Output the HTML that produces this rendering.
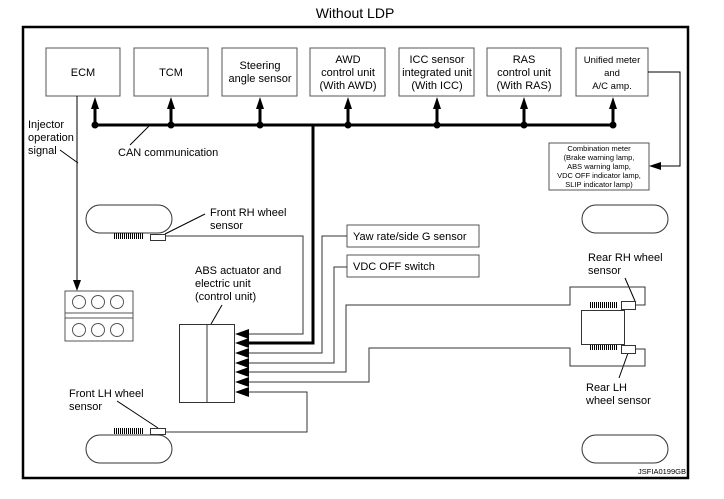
<!DOCTYPE html>
<html><head><meta charset="utf-8"><style>
html,body{margin:0;padding:0;background:#fff;}
svg{display:block;}
text{font-family:"Liberation Sans",Arial,sans-serif;fill:#000;}
</style></head><body>
<svg width="724" height="499" viewBox="0 0 724 499" xmlns="http://www.w3.org/2000/svg">
<defs>
<pattern id="teeth" width="2" height="6" patternUnits="userSpaceOnUse"><rect width="1" height="6" fill="#000"/></pattern>
</defs>
<text x="355" y="18" font-size="14" text-anchor="middle">Without LDP</text>
<rect x="23" y="27" width="665" height="451" fill="none" stroke="#000" stroke-width="2.5"/>

<g fill="#fff" stroke="#555" stroke-width="1">
<rect x="46" y="48" width="74" height="48"/>
<rect x="134" y="48" width="74" height="48"/>
<rect x="222" y="48" width="75" height="48"/>
<rect x="310" y="48" width="75" height="48"/>
<rect x="399" y="48" width="75" height="48"/>
<rect x="487" y="48" width="74" height="48"/>
<rect x="576" y="48" width="72" height="48"/>
</g>
<g font-size="11" text-anchor="middle">
<text x="83" y="76">ECM</text>
<text x="171" y="76">TCM</text>
<text x="260" y="69">Steering</text><text x="260" y="82">angle sensor</text>
<text x="348" y="63">AWD</text><text x="348" y="76">control unit</text><text x="348" y="89">(With AWD)</text>
<text x="437" y="63">ICC sensor</text><text x="437" y="76">integrated unit</text><text x="437" y="89">(With ICC)</text>
<text x="524" y="63">RAS</text><text x="524" y="76">control unit</text><text x="524" y="89">(With RAS)</text>
</g>
<g font-size="9.5" text-anchor="middle">
<text x="612" y="63">Unified meter</text><text x="612" y="76">and</text><text x="612" y="89">A/C amp.</text>
</g>

<!-- CAN bus -->
<g stroke="#000" stroke-width="3" fill="none">
<line x1="95" y1="125" x2="613" y2="125"/>
<line x1="95" y1="125" x2="95" y2="108"/>
<line x1="171" y1="125" x2="171" y2="108"/>
<line x1="260" y1="125" x2="260" y2="108"/>
<line x1="348" y1="125" x2="348" y2="108"/>
<line x1="437" y1="125" x2="437" y2="108"/>
<line x1="524" y1="125" x2="524" y2="108"/>
<line x1="613" y1="125" x2="613" y2="108"/>
<polyline points="313,125 313,343 249,343"/>
</g>
<g fill="#000">
<polygon points="95,97 91,109 99,109"/><polygon points="171,97 167,109 175,109"/>
<polygon points="260,97 256,109 264,109"/><polygon points="348,97 344,109 352,109"/>
<polygon points="437,97 433,109 441,109"/><polygon points="524,97 520,109 528,109"/>
<polygon points="613,97 609,109 617,109"/>
<circle cx="95" cy="125" r="3.5"/><circle cx="171" cy="125" r="3.5"/><circle cx="260" cy="125" r="3.5"/>
<circle cx="348" cy="125" r="3.5"/><circle cx="437" cy="125" r="3.5"/><circle cx="524" cy="125" r="3.5"/>
<circle cx="613" cy="125" r="3.5"/>
</g>

<!-- labels -->
<g font-size="11">
<text x="28" y="128">Injector</text><text x="28" y="141">operation</text><text x="28" y="154">signal</text>
<text x="118" y="156">CAN communication</text>
<text x="210" y="216">Front RH wheel</text><text x="210" y="229">sensor</text>
<text x="195" y="274">ABS actuator and</text><text x="195" y="287">electric unit</text><text x="195" y="300">(control unit)</text>
<text x="69" y="397">Front LH wheel</text><text x="69" y="410">sensor</text>
<text x="588" y="261">Rear RH wheel</text><text x="588" y="274">sensor</text>
<text x="586" y="391">Rear LH</text><text x="586" y="404">wheel sensor</text>
</g>
<g stroke="#000" stroke-width="1" fill="none">
<line x1="60" y1="150" x2="78" y2="163"/>
<line x1="150" y1="125" x2="130" y2="145"/>
<line x1="205" y1="214" x2="165" y2="234"/>
<line x1="222" y1="305" x2="211" y2="324"/>
<line x1="117" y1="401" x2="158" y2="428"/>
<line x1="625" y1="278" x2="635" y2="301"/>
<line x1="628" y1="353" x2="619" y2="378"/>
</g>

<!-- injector -->
<line x1="77" y1="96" x2="77" y2="282" stroke="#000" stroke-width="1"/>
<polygon points="77,291 73,280 81,280" fill="#000"/>
<g stroke="#555" stroke-width="1" fill="#fff">
<rect x="65" y="291" width="68" height="50"/>
<line x1="65" y1="313" x2="133" y2="313"/><line x1="65" y1="318" x2="133" y2="318"/>
<circle cx="79" cy="302" r="6.5"/><circle cx="98" cy="302" r="6.5"/><circle cx="117" cy="302" r="6.5"/>
<circle cx="79" cy="330" r="6.5"/><circle cx="98" cy="330" r="6.5"/><circle cx="117" cy="330" r="6.5"/>
</g>

<!-- combination meter -->
<rect x="549" y="143" width="100" height="47" fill="#fff" stroke="#555"/>
<g font-size="7.5" text-anchor="middle">
<text x="599" y="151">Combination meter</text>
<text x="599" y="160">(Brake warning lamp,</text>
<text x="599" y="169">ABS warning lamp,</text>
<text x="599" y="178">VDC OFF indicator lamp,</text>
<text x="599" y="187">SLIP indicator lamp)</text>
</g>
<polyline points="648,72 680,72 680,166 660,166" fill="none" stroke="#000"/>
<polygon points="649,166 661,162 661,170" fill="#000"/>

<!-- sensors boxes -->
<rect x="347" y="225" width="132" height="22" fill="#fff" stroke="#555"/>
<text x="353" y="240" font-size="11">Yaw rate/side G sensor</text>
<rect x="347" y="255" width="132" height="22" fill="#fff" stroke="#555"/>
<text x="353" y="270" font-size="11">VDC OFF switch</text>

<!-- wheels -->
<g fill="#fff" stroke="#333" stroke-width="1">
<rect x="86" y="205" width="86" height="28" rx="14"/>
<rect x="86" y="435" width="86" height="28" rx="14"/>
<rect x="582" y="205" width="86" height="28" rx="14"/>
<rect x="582" y="435" width="86" height="28" rx="14"/>
</g>
<rect x="114" y="233" width="30" height="6" fill="url(#teeth)"/>
<rect x="114" y="428" width="30" height="6" fill="url(#teeth)"/>
<rect x="150.5" y="234.5" width="15" height="6" fill="#fff" stroke="#333"/>
<rect x="150.5" y="428.5" width="15" height="6" fill="#fff" stroke="#333"/>

<!-- rear axle -->
<rect x="589" y="302" width="29" height="6" fill="url(#teeth)"/>
<rect x="589" y="344" width="29" height="6" fill="url(#teeth)"/>
<rect x="581.5" y="310.5" width="43" height="34" fill="#fff" stroke="#333"/>
<rect x="621.5" y="301.5" width="14" height="8" fill="#fff" stroke="#333"/>
<rect x="621.5" y="345.5" width="14" height="8" fill="#fff" stroke="#333"/>

<!-- wires -->
<g fill="none" stroke="#333" stroke-width="1">
<polyline points="166,236 303,236 303,334 249,334"/>
<polyline points="347,236 322,236 322,353 249,353"/>
<polyline points="347,267 334,267 334,363 249,363"/>
<polyline points="249,372 346,372 346,305 570,305 570,287 645,287 645,305 636,305"/>
<polyline points="249,382 369,382 369,348 570,348 570,366 645,366 645,349 636,349"/>
<polyline points="249,392 307,392 307,432 166,432"/>
</g>

<!-- ABS unit -->
<rect x="179.5" y="324.5" width="55" height="78" fill="#fff" stroke="#333"/>
<line x1="207" y1="324" x2="207" y2="402" stroke="#333"/>
<g fill="#000">
<polygon points="235,334 249,329 249,339"/>
<polygon points="235,343 249,338 249,348"/>
<polygon points="235,353 249,348 249,358"/>
<polygon points="235,363 249,358 249,368"/>
<polygon points="235,372 249,367 249,377"/>
<polygon points="235,382 249,377 249,387"/>
<polygon points="235,392 249,387 249,397"/>
</g>

<text x="686" y="474" font-size="7.5" text-anchor="end">JSFIA0199GB</text>
</svg>
</body></html>
